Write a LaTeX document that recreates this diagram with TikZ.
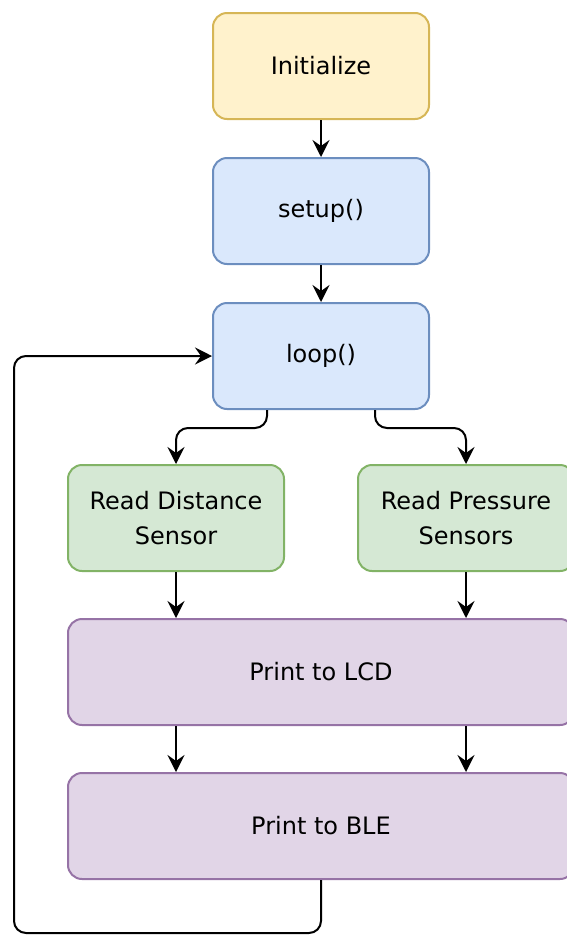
\documentclass[tikz,border=0pt]{standalone}
\usepackage{fontspec}
\setmainfont{DejaVu Sans}
\usepackage{xcolor}
\usetikzlibrary{arrows.meta,positioning}
\definecolor{inityel}{HTML}{FFF2CC}
\definecolor{initline}{HTML}{D6B656}
\definecolor{ctlblue}{HTML}{DAE8FC}
\definecolor{ctlline}{HTML}{6C8EBF}
\definecolor{snsgreen}{HTML}{D5E8D4}
\definecolor{snsline}{HTML}{82B366}
\definecolor{outpurple}{HTML}{E1D5E7}
\definecolor{outline}{HTML}{9673A6}
\tikzset{
  block/.style={rectangle,rounded corners=14pt,line width=2pt,
                minimum width=216pt,minimum height=106pt,align=center,
                font=\fontsize{24}{35}\selectfont,text=black},
  initbox/.style={block,draw=initline,fill=inityel},
  ctlbox/.style={block,draw=ctlline,fill=ctlblue},
  snsbox/.style={block,draw=snsline,fill=snsgreen},
  outbox/.style={block,draw=outline,fill=outpurple,minimum width=506pt},
  flow/.style={-{Stealth[length=17pt,width=17pt,inset=6pt]},line width=2pt,
               rounded corners=12pt},
}

\begin{document}
\begin{tikzpicture}[x=1pt,y=1pt,node distance=37pt]
  \useasboundingbox (0,0) rectangle (567,-935);
  \node[initbox] (init) at (321,-66) {Initialize};
  \node[ctlbox,below=of init] (setup) {setup()};
  \node[ctlbox,below=of setup] (loop) {loop()};
  \node[snsbox] (dist) at (176,-518) {Read Distance\\Sensor};
  \node[snsbox] (press) at (466,-518) {Read Pressure\\Sensors};
  \node[outbox] (lcd) at (321,-672) {Print to LCD};
  \node[outbox] (ble) at (321,-826) {Print to BLE};
  \coordinate (ret) at (14,-933);
  \draw[flow] (init) -- (setup);
  \draw[flow] (setup) -- (loop);
  \draw[flow] ([xshift=-54pt]loop.south) -- ++(0,-18) -| (dist.north);
  \draw[flow] ([xshift=54pt]loop.south) -- ++(0,-18) -| (press.north);
  \draw[flow] (dist.south) -- (dist.south |- lcd.north);
  \draw[flow] (press.south) -- (press.south |- lcd.north);
  \draw[flow] (lcd.south -| dist) -- (ble.north -| dist);
  \draw[flow] (lcd.south -| press) -- (ble.north -| press);
  \draw[flow] (ble.south) |- (ret) |- (loop.west);
\end{tikzpicture}
\end{document}
